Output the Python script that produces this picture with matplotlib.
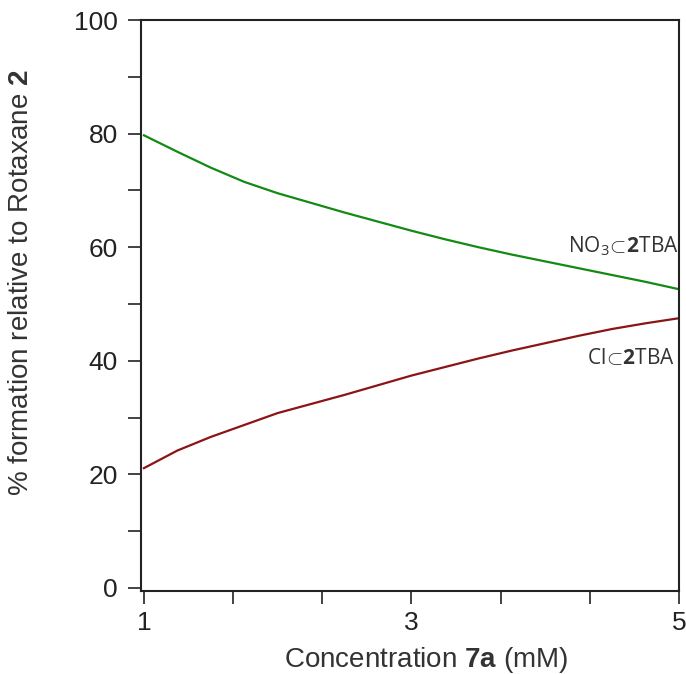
import matplotlib
matplotlib.use("Agg")
import matplotlib.pyplot as plt

# data
conc = [1.0, 1.25, 1.5, 1.75, 2.0, 2.25, 2.5, 2.75, 3.0, 3.25, 3.5, 3.75, 4.0, 4.25, 4.5, 4.75, 5.0]
no3 = [79.7, 76.8, 74.0, 71.5, 69.5, 67.8, 66.1, 64.5, 62.9, 61.4, 60.0, 58.7, 57.5, 56.3, 55.1, 53.9, 52.6]
cl = [21.1, 24.2, 26.6, 28.7, 30.8, 32.4, 34.0, 35.7, 37.4, 38.9, 40.4, 41.8, 43.1, 44.4, 45.6, 46.6, 47.5]
xtick_vals = [1, 3, 5]
xtick_minor = [1 + 2 / 3 * i for i in range(7)]
ytick_vals = [0, 20, 40, 60, 80, 100]
ytick_minor = [10, 30, 50, 70, 90]

plt.rcParams['font.family'] = ['Liberation Sans', 'DejaVu Sans']
plt.rcParams['mathtext.fontset'] = 'custom'
plt.rcParams['mathtext.rm'] = 'Liberation Sans'
plt.rcParams['mathtext.bf'] = 'Liberation Sans:bold'
plt.rcParams['mathtext.sf'] = 'Open Sans'
plt.rcParams['mathtext.cal'] = 'Open Sans:bold'

fig = plt.figure(figsize=(6.86, 6.74), dpi=100)
ax = fig.add_axes([141 / 686, 1 - 591 / 674, 538 / 686, 571 / 674])

ax.plot(conc, no3, color='#138a13', lw=1.6)
ax.plot(conc, cl, color='#8b1414', lw=1.6)

ax.set_xlim(0.978, 5.0)
ax.set_ylim(-0.53, 100)

ax.set_xticks(xtick_vals)
ax.set_xticks(xtick_minor, minor=True)
ax.set_yticks(ytick_vals)
ax.set_yticks(ytick_minor, minor=True)
ax.tick_params(axis='both', which='major', length=9.5, width=1.2, labelsize=19, colors='#222222', pad=5)
ax.tick_params(axis='both', which='minor', length=9.5, width=1.2, colors='#222222')
ax.tick_params(axis='y', which='major', pad=7)
for s in ax.spines.values():
    s.set_linewidth(1.5)
    s.set_color('#222222')

ax.set_xlabel(r'Concentration $\mathbf{7a}$ (mM)', fontsize=20, color='#333333', labelpad=3)
ax.xaxis.set_label_coords(0.53, -0.095)
ax.set_ylabel(r'% formation relative to Rotaxane $\mathbf{2}$', fontsize=20, color='#333333')
ax.yaxis.set_label_coords(-0.198, 0.54)

ax.text(4.995, 60.2, r'$\mathsf{NO_3}\!\subset\!\mathcal{2}\mathsf{TBA}$', ha='right', va='center',
        fontsize=15, color='#333333')
ax.text(4.97, 40.5, r'$\mathsf{Cl}\!\subset\!\mathcal{2}\mathsf{TBA}$', ha='right', va='center',
        fontsize=15, color='#333333')

fig.savefig('out.png', dpi=100)
